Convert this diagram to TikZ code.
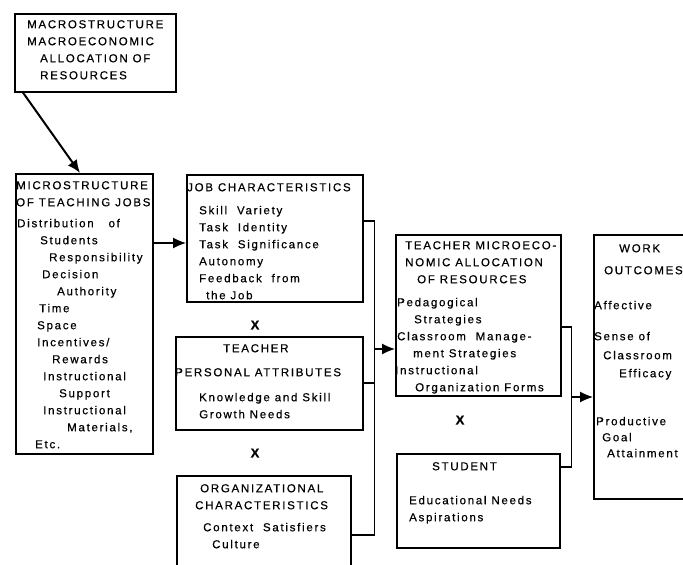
\documentclass[tikz,border=0pt]{standalone}
\usepackage{fontspec}
\setmainfont{Liberation Sans}[LetterSpace=15, FakeBold=0.5]
\usetikzlibrary{arrows.meta}

\begin{document}
\begin{tikzpicture}[x=1pt, y=-1pt,
  box/.style={draw, line width=1.6pt, anchor=north west, inner sep=0pt},
  txt/.style={anchor=north west, align=left, inner sep=0pt, font=\fontsize{11.5}{17}\selectfont},
  line/.style={line width=1.2pt},
  arr/.style={line width=1.2pt, -{Latex[length=13pt,width=11pt]}},
  cross/.style={inner sep=0pt, font=\bfseries\fontsize{13}{13}\selectfont}]
\useasboundingbox (0,0) rectangle (683,565);

\node[box, minimum width=161pt, minimum height=78pt] (macro) at (14,13) {};
\node[box, minimum width=137pt, minimum height=280pt] (micro) at (15,173) {};
\node[box, minimum width=176pt, minimum height=127pt] (jobchar) at (186,174) {};
\node[box, minimum width=187pt, minimum height=93pt] (persattr) at (175,336) {};
\node[box, minimum width=174pt, minimum height=110pt] (orgchar) at (176,475) {};
\node[box, minimum width=165pt, minimum height=161pt] (tmicro) at (395,234) {};
\node[box, minimum width=163pt, minimum height=94pt] (student) at (396,453) {};
\node[box, minimum width=100pt, minimum height=264pt] (outcomes) at (593,234) {};

\node[txt] (macrotxt) at ([shift={(13,7)}]macro.north west) {MACROSTRUCTURE\\
  MACROECONOMIC\\
  \hspace*{13pt}ALLOCATION OF\\
  \hspace*{13pt}RESOURCES};
\node[txt] (microtxt) at ([shift={(1,8)}]micro.north west) {MICROSTRUCTURE\\
  OF TEACHING JOBS\\[4pt]
  \hspace*{1pt}Distribution\hspace{10pt} of\\
  \hspace*{24pt}Students\\
  \hspace*{33pt}Responsibility\\
  \hspace*{26pt}Decision\\
  \hspace*{41pt}Authority\\
  \hspace*{23pt}Time\\
  \hspace*{21pt}Space\\
  \hspace*{21pt}Incentives/\\
  \hspace*{36pt}Rewards\\
  \hspace*{27pt}Instructional\\
  \hspace*{43pt}Support\\
  \hspace*{27pt}Instructional\\
  \hspace*{51pt}Materials,\\
  \hspace*{19pt}Etc.};
\node[txt] (jobtxt) at ([shift={(1,9)}]jobchar.north west) {JOB CHARACTERISTICS\\[6pt]
  \hspace*{12pt}Skill\ \ Variety\\
  \hspace*{12pt}Task\ \ Identity\\
  \hspace*{12pt}Task\ \ Significance\\
  \hspace*{12pt}Autonomy\\
  \hspace*{12pt}Feedback\ \ from\\
  \hspace*{19pt}the Job};
\node[txt] (persattrtxt) at ([shift={(0,8)}]persattr.north west) {\hspace*{48pt}TEACHER\\[7pt]
  PERSONAL ATTRIBUTES\\[8pt]
  \hspace*{24pt}Knowledge and Skill\\
  \hspace*{24pt}Growth Needs};
\node[txt] (orgtxt) at ([shift={(19,9)}]orgchar.north west) {\hspace*{5pt}ORGANIZATIONAL\\
  CHARACTERISTICS\\[5pt]
  \hspace*{8pt}Context\ \ Satisfiers\\
  \hspace*{17pt}Culture};
\node[txt] (tmicrotxt) at ([shift={(0,7)}]tmicro.north west) {\hspace*{10pt}TEACHER MICROECO-\\
  \hspace*{10pt}NOMIC ALLOCATION\\
  \hspace*{22pt}OF RESOURCES\\[6pt]
  \hspace*{2pt}Pedagogical\\
  \hspace*{19pt}Strategies\\
  \hspace*{2pt}Classroom\ \ Manage-\\
  \hspace*{18pt}ment Strategies\\
  Instructional\\
  \hspace*{20pt}Organization Forms};
\node[txt] (studtxt) at ([shift={(13,9)}]student.north west) {\hspace*{23pt}STUDENT\\[17pt]
  Educational Needs\\
  Aspirations};
\node[txt] (outtxt) at ([shift={(1,10)}]outcomes.north west) {\hspace*{25pt}WORK\\[5pt]
  \hspace*{10pt}OUTCOMES\\[18pt]
  Affective\\[14pt]
  Sense of\\[2pt]
  \hspace*{9pt}Classroom\\[1pt]
  \hspace*{25pt}Efficacy\\[31pt]
  \hspace*{2pt}Productive\\[-1pt]
  \hspace*{8pt}Goal\\[-1pt]
  \hspace*{13pt}Attainment};

\node[cross] (x1) at (255,325) {X};
\node[cross] (x2) at (255,453) {X};
\node[cross] (x3) at (460,420) {X};

\draw[arr, line width=2pt] ([xshift=9]macro.south west) -- ([xshift=65]micro.north west);
\coordinate (jin) at ([shift={(0,69)}]jobchar.north west);
\draw[arr] (micro.east |- jin) -- (jin);

\coordinate (bus1) at ([shift={(11,47)}]jobchar.north east);
\coordinate (bus2) at ([shift={(23,60)}]orgchar.north east);
\draw[line] ([shift={(0,47)}]jobchar.north east) -- (bus1) -- (bus2) -- ([shift={(0,60)}]orgchar.north east);
\draw[line] ([shift={(0,47)}]persattr.north east) -- +(11,0);
\coordinate (tin) at ([shift={(0,115)}]tmicro.north west);
\draw[arr] (bus1 |- tin) -- (tin);

\coordinate (bus3) at ([shift={(10,93)}]tmicro.north east);
\coordinate (bus4) at ([shift={(11,14)}]student.north east);
\draw[line] ([shift={(0,93)}]tmicro.north east) -- (bus3) -- (bus4) -- ([shift={(0,14)}]student.north east);
\coordinate (win) at ([shift={(0,163)}]outcomes.north west);
\draw[arr] (bus3 |- win) -- (win);
\end{tikzpicture}
\end{document}
